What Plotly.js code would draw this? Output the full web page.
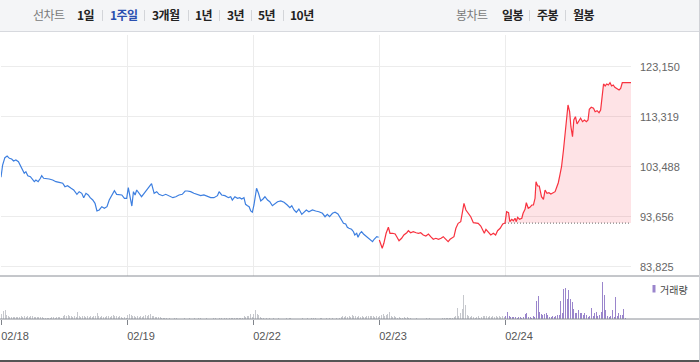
<!DOCTYPE html>
<html><head><meta charset="utf-8">
<script src="https://cdn.plot.ly/plotly-3.0.1.min.js"></script>
<style>
html,body{margin:0;padding:0;background:#fff;}
#wrap{position:relative;width:700px;height:362px;overflow:hidden;background:#fff;}
#chart{position:absolute;left:0;top:0;width:700px;height:362px;}
#bar{position:absolute;left:0;top:0;width:699px;height:31px;background:#f4f5f7;border-bottom:1px solid #d7d9de;z-index:2;
 font-family:"Noto Sans CJK KR","Noto Sans",sans-serif;font-size:12px;letter-spacing:-0.5px;}
#bar span{position:absolute;top:6px;line-height:17px;white-space:nowrap;color:#222;font-weight:bold;}
#bar span.lbl{color:#7a7a7a;font-weight:normal;}
#bar span.on{color:#2a4fb0;}
#bar i{position:absolute;top:10px;width:1px;height:11px;background:#d3d5d9;}
#rb{position:absolute;right:0;top:0;width:1px;height:362px;background:#cfd1d6;z-index:3;}
</style>
</head><body>
<div id="wrap">
 <div id="chart"></div>
 <div id="bar">
  <span class="lbl" style="left:33px">선차트</span>
  <span style="left:77px">1일</span><i style="left:102px"></i>
  <span class="on" style="left:110px">1주일</span><i style="left:144px"></i>
  <span style="left:152px">3개월</span><i style="left:188px"></i>
  <span style="left:195px">1년</span><i style="left:219px"></i>
  <span style="left:227px">3년</span><i style="left:251px"></i>
  <span style="left:258px">5년</span><i style="left:283px"></i>
  <span style="left:290px">10년</span>
  <span class="lbl" style="left:456px">봉차트</span>
  <span style="left:502px">일봉</span><i style="left:529px"></i>
  <span style="left:537px">주봉</span><i style="left:565px"></i>
  <span style="left:573px">월봉</span>
 </div>
 <div id="rb"></div>
</div>
<script>
// ---- data ----
const days = ['02/18','02/19','02/22','02/23','02/24'];
const sessionMinutes = 390; // 09:00-15:30
const yTicks = [83825, 93656, 103488, 113319, 123150];
const prevClose = 92400;

// minutes after open / price, per day
const d1Min = [0,5,12,19,26,33,39,46,54,60,67,72,77,83,91,98,103,108,115,122,126,132,139,149,160,170,180,191,198,206,217,225,235,242,250,256,263,270,276,284,291,297,304,312,320,328,335,343,351,358,366,374,382,389];
const d1Px  = [101410,103820,105260,105590,105140,105000,104610,104810,104470,103690,103040,102190,102510,101720,101520,100880,100540,100880,100540,101210,101720,101210,101210,101070,100880,100540,100420,100230,99560,99750,99240,98910,98060,98580,98260,97400,98260,97930,97400,96940,96290,94780,94980,95630,95310,95630,96940,97930,98770,98060,98060,97930,97280,97280];

const d2Min = [4,9,15,20,25,30,37,45,53,63,76,84,92,99,110,120,128,135,142,151,161,171,180,187,197,207,218,228,238,249,259,269,280,285,293,303,314,321,326,334,342,349,355,362,367,373,378,383,388];
const d2Px  = [99360,97930,95760,98580,97930,98910,98260,97590,98260,99110,100150,98260,98580,98060,97790,98060,97790,97590,97400,97590,97930,98060,98710,98710,98580,98260,98060,97790,97930,97590,97400,97400,97790,98580,97930,97790,97400,97590,96940,97590,97280,97400,97140,97400,96100,95820,95630,94780,94530];

const d3Min = [3,11,17,24,31,37,45,52,60,68,76,86,96,106,114,120,127,134,142,151,158,165,173,184,194,204,215,223,230,237,246,254,263,271,280,287,292,297,305,311,315,321,325,331,336,342,349,356,362,370,375,383,389];
const d3Px  = [95960,99240,98260,96750,97140,97590,96940,96610,95820,96290,96610,96750,96490,95960,95430,95820,94980,94530,95170,94130,94530,94980,94640,94980,94780,94640,94330,93660,94130,93660,94330,94530,94190,93350,92360,92230,91580,91380,91180,90710,90060,90400,89610,90400,90710,90260,89870,89410,89080,88750,89220,89730,89610];

const d4Min = [1,5,10,15,22,29,34,42,50,55,62,70,77,86,91,98,106,115,122,129,137,145,153,160,168,176,184,192,199,204,210,214,220,225,232,238,245,253,258,263,269,276,284,292,300,307,315,321,326,331,338,346,354,361,367,375,383,390];
const d4Px  = [89080,88100,87450,88430,90400,91580,90400,90400,90260,89730,88940,89410,90060,90510,90910,90510,90710,90510,90400,90510,90060,89870,90260,89730,89220,89410,89220,89410,89730,89410,89080,88750,89220,89410,89730,91380,92360,92680,94980,96290,94980,94450,93660,92480,92360,92360,91830,91050,90400,91180,90710,90060,90400,90060,90910,91380,92230,92400];

const d5Min = [5,11,15,21,26,31,35,39,45,52,56,62,66,72,77,83,88,93,96,101,106,113,119,124,130,136,142,149,155,160,165,170,175,181,186,190,195,200,204,209,213,218,223,229,234,240,246,252,257,261,267,274,279,285,291,296,300,305,310,315,320,325,330,335,340,347,353,358,363,374,390];
const d5Px  = [94640,94450,92680,93150,92870,93350,92680,93540,93150,93350,94330,95120,96410,95310,95510,95960,95960,97280,100540,99700,99700,97590,97080,98910,98260,98380,98120,98380,98580,99440,100340,101860,103490,106770,110370,113650,115620,114300,111350,109390,112670,113320,111890,112530,113010,112340,112670,112340,112670,114780,115170,114970,114300,114500,114110,114640,117250,119750,119360,119750,119550,120000,119360,119550,119100,118710,118570,118900,120000,120000,120000];

// volume per 5-minute bar (thousand shares)
const volStep = 5;
const vol1 = [5,7.7,8.7,4.3,2.7,2,1.7,1.7,2,1.7,2,2,2.7,2,2.7,2,2.7,2,2.7,3.3,2,1.7,2,1.7,2,1.7,1.3,0.7,0.7,0.7,1,2,2,1.3,1.7,2,1.7,1.3,3.3,4.3,3.3,4.3,2.7,3.3,2,2.7,2,7,2.7,2,2.7,3.3,2,2.7,2,3.3,2,2.7,3.3,6,3.3,2,2.7,2,2,2.7,2.7,2,3.3,4,3.3,2.7,2,2.7,2,1.3,1.7,1.3];
const vol2 = [4.3,5,4.3,3.3,2.7,2,2.7,2,2.7,2,2.7,4.3,3.3,4.3,5.3,3.3,2.7,2,2,1.7,1.7,1.3,1,1,1.3,0.5,1,0.5,0.5,1,1.3,0.5,0,0.5,0.5,1,0.5,0,1,0.5,0.5,1,0,0.5,1,1,0.5,0,0.5,1,0.5,0,0.5,1,1,0.5,0.5,1,1,0.5,1,1.3,0.5,1,1.3,1,1.3,1,1.3,1.3,1.3,1,2.7,2,3.3,2.7,5,2];
const vol3 = [5,9.3,5,4.3,2,1,1,0.5,1,0.5,1,0.5,1,0.5,0.5,1,0.5,0,0.5,0.5,1,0.5,1,1.3,0.5,0,0.5,0.5,0,0.5,1,0.5,0.5,1,0.5,0,1,1.3,1,0.5,0.5,1,1,0.5,0.5,1,0.5,1,0.5,1,0.5,1,0.5,1,2,2.7,2,2.7,2,2.7,2,4.3,3.3,3.3,2,2.7,2,2.7,2,2,2.7,3.3,2.7,3.3,2.7,2,2.7,2];
const vol4 = [2.7,4.3,5.3,3.3,4.3,5.3,7,2.7,2,2.7,2,1.3,2,1.3,1,2,1.3,2,1,1.3,0.5,0.5,0.5,1,0.5,0,0.5,0.5,0,1,0.5,1,0.5,0.5,0,0.5,0.5,0.5,0.5,0.7,1,0.7,1.3,1,1.3,1,2,2.7,11,2.7,6,10,24.3,14.3,4.3,2.7,2,2.7,2,1,2,2.7,1,2,2.7,3.3,2.7,2,2.7,2,2.7,2,2.7,2,2.7,2,2.7,2];
const vol5 = [3,6.7,2.7,2.3,2,1.7,2,1.3,1.7,2,1.3,2,5.3,6,2.3,2,1.3,2.7,2,18.3,22.7,6.7,5.3,4,5.3,6,4.3,2,2.3,2.7,2,2.7,4.3,4.3,18.3,6,30,31,20,29.3,20,16.7,10,6.5,6,9.3,6,6,4.3,6,4.3,2,3,11,3.3,6,6.7,3.3,4.3,6.7,36.7,24.3,9.3,3.3,2,2.7,9.3,2,22,3.3,6,4.3,4.3,10,1,0,0,0];

// ---- build ----
function xs(dayIdx, mins){ return mins.map(m => dayIdx*sessionMinutes + m); }
const priceDays = [[d1Min,d1Px],[d2Min,d2Px],[d3Min,d3Px],[d4Min,d4Px],[d5Min,d5Px]];
const blueX = [], blueY = [], redX = [], redY = [];
priceDays.forEach(([m,p],i) => {
  const X = xs(i,m);
  if (i < 3) { blueX.push(...X); blueY.push(...p); }
  else { redX.push(...X); redY.push(...p); }
});
// today's area (from yesterday close)
const todayX = [3*sessionMinutes + d4Min[d4Min.length-1]].concat(xs(4,d5Min));
const todayY = [d4Px[d4Px.length-1]].concat(d5Px);

const vols = [vol1,vol2,vol3,vol4,vol5];
const vX = [], vY = [], vC = [];
vols.forEach((arr,i) => arr.forEach((v,k) => {
  vX.push(i*sessionMinutes + k*volStep + volStep/2);
  vY.push(v);
  vC.push(i === 4 ? '#9a85cc' : '#c6c8cd');
}));

const dayStarts = days.map((d,i) => i*sessionMinutes);
const fmt = v => v.toLocaleString('en-US');

const traces = [
  {x:[4*sessionMinutes, 5*sessionMinutes], y:[prevClose, prevClose], xaxis:'x', yaxis:'y', mode:'lines',
   line:{color:'#666', width:1, dash:'1px,2px'}, hoverinfo:'skip'},
  {x:todayX, y:todayY, xaxis:'x', yaxis:'y', mode:'lines', line:{width:0, color:'rgba(0,0,0,0)'},
   fill:'tonexty', fillcolor:'rgba(248,70,90,0.15)', hoverinfo:'skip'},
  {x:blueX, y:blueY, xaxis:'x', yaxis:'y', mode:'lines', line:{color:'#3d7fe0', width:1.2}, hoverinfo:'skip'},
  {x:redX, y:redY, xaxis:'x', yaxis:'y', mode:'lines', line:{color:'#f8323f', width:1.2}, hoverinfo:'skip'},
  {type:'bar', x:vX, y:vY, xaxis:'x2', yaxis:'y2', marker:{color:vC, line:{width:0}}, width:3.2, hoverinfo:'skip'}
];

const H = 362, mt = 35, mb = 43, ml = 1, mr = 69;
const ph = H - mt - mb, pw = 700 - ml - mr;
const py = px => (H - mb - px) / ph;   // page y -> paper y
const pxx = px => (px - ml) / pw;      // page x -> paper x

const layout = {
  width:700, height:H,
  margin:{l:ml, r:mr, t:mt, b:mb, pad:0},
  paper_bgcolor:'#fff', plot_bgcolor:'rgba(0,0,0,0)',
  showlegend:false, bargap:0,
  font:{family:'"Liberation Sans", Arial, sans-serif', size:11, color:'#666'},
  xaxis:{domain:[0,1], anchor:'y', range:[0, 5*sessionMinutes], tickvals:dayStarts, showticklabels:false,
         ticks:'', showgrid:true, gridcolor:'#ececec', gridwidth:1, zeroline:false, showline:false, fixedrange:true},
  yaxis:{domain:[py(276),1], anchor:'x', range:[82001,129382], side:'right', tickvals:yTicks, ticktext:yTicks.map(fmt),
         showgrid:true, gridcolor:'#ececec', gridwidth:1, zeroline:false, showline:false, ticks:'',
         ticklabelstandoff:8, tickfont:{size:11, color:'#666'}, fixedrange:true},
  xaxis2:{domain:[0,1], anchor:'y2', range:[0, 5*sessionMinutes], tickvals:dayStarts, ticktext:days,
          ticks:'outside', ticklen:5, tickcolor:'#80848b', tickwidth:1, showgrid:false, zeroline:false, showline:false,
          ticklabelshift:14, ticklabelstandoff:2, tickfont:{size:11, color:'#555'}, fixedrange:true},
  yaxis2:{domain:[0,py(277)], anchor:'x2', range:[0,42], showticklabels:false, showgrid:false, zeroline:false, ticks:'', fixedrange:true},
  shapes:[
    {type:'line', xref:'paper', yref:'paper', x0:pxx(0), x1:pxx(700), y0:py(276), y1:py(276), line:{color:'#8a8e96', width:1}},
    {type:'line', xref:'paper', yref:'paper', x0:pxx(0), x1:pxx(700), y0:py(319), y1:py(319), line:{color:'#8a8e96', width:1}},
    {type:'line', xref:'paper', yref:'paper', x0:pxx(0), x1:pxx(700), y0:py(361), y1:py(361), line:{color:'#555', width:2}},
    {type:'rect', xref:'paper', yref:'paper', x0:pxx(652.5), x1:pxx(655.5), y0:py(292.5), y1:py(285), fillcolor:'#9a85cc', line:{width:0}}
  ],
  annotations:[
    {xref:'paper', yref:'paper', x:pxx(658), y:py(289), xanchor:'left', yanchor:'middle', showarrow:false,
     text:'거래량', font:{family:'"Noto Sans CJK KR", sans-serif', size:10, color:'#444'}}
  ]
};
Plotly.newPlot('chart', traces, layout, {staticPlot:true, displayModeBar:false});
</script>
</body></html>
